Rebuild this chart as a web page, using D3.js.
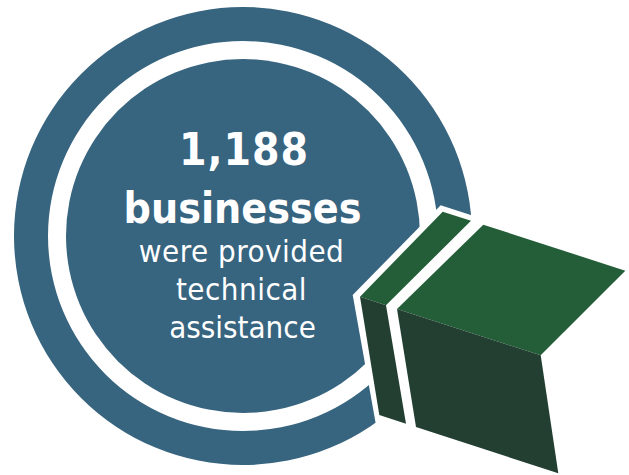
<!DOCTYPE html>
<html><head><meta charset="utf-8">
<script src="https://cdn.jsdelivr.net/npm/d3@7"></script>
<style>html,body{margin:0;background:#fff}svg{display:block}</style></head>
<body><script>
const headline = ["1,188", "businesses"];
const caption = ["were provided", "technical", "assistance"];
const blue = "#37647f", lightGreen = "#245e39", darkGreen = "#233f32";
// Polygons of the folded ribbon, in page units
const ribbonTopSmall = [[442.7,211.7],[471,220.7],[386,305.3],[360,296.7]];
const ribbonTopLarge = [[483.3,224.7],[625.3,270.7],[540.7,355.3],[397,309]];
const ribbonFrontSmall = [[360,296.7],[386,305.3],[406,423.7],[379.3,415]];
const ribbonFrontLarge = [[397,309],[540.7,355.3],[558.3,473.3],[416,427]];
// White margin that cuts the ribbon out of the ring and disc
const ribbonHalo = [[440.7,205.3],[640,270],[640,475],[385,475],[375,419.5],[352.7,295]];

const svg = d3.select("body").append("svg").attr("width",629).attr("height",475);
const arc = d3.arc();
svg.append("path").attr("transform","translate(243,236)")
  .attr("d",arc({innerRadius:195,outerRadius:229,startAngle:0,endAngle:2*Math.PI})).attr("fill",blue);
svg.append("circle").attr("cx",243).attr("cy",236).attr("r",177).attr("fill",blue);
const line = d3.line();
svg.append("path").attr("d",line(ribbonHalo)+"Z").attr("fill","#fff");
[[ribbonTopSmall,lightGreen],[ribbonTopLarge,lightGreen],[ribbonFrontSmall,darkGreen],[ribbonFrontLarge,darkGreen]]
  .forEach(([p,c])=>svg.append("path").attr("d",line(p)+"Z").attr("fill",c));
const font = "'DejaVu Sans Condensed', 'DejaVu Sans', sans-serif";
const headlineBase = [165,222.5], captionBase = [261.5,300,338];
const captionTracking = [0.5,0.5,0];
svg.selectAll(".h").data(headline).join("text").attr("class","h").attr("x",(d,i)=>i?242.5:244)
  .attr("y",(d,i)=>headlineBase[i]).attr("text-anchor","middle").attr("fill","#fff")
  .attr("font-family",font).attr("font-weight",700).attr("font-size",(d,i)=>i?42.5:44)
  .attr("letter-spacing",(d,i)=>i?0:1).text(d=>d);
svg.selectAll(".c").data(caption).join("text").attr("class","c").attr("x",(d,i)=>i==2?242.5:241.5)
  .attr("y",(d,i)=>captionBase[i]).attr("text-anchor","middle").attr("fill","#fff")
  .attr("font-family",font).attr("font-size",31).attr("letter-spacing",(d,i)=>captionTracking[i]).text(d=>d);
</script></body></html>
